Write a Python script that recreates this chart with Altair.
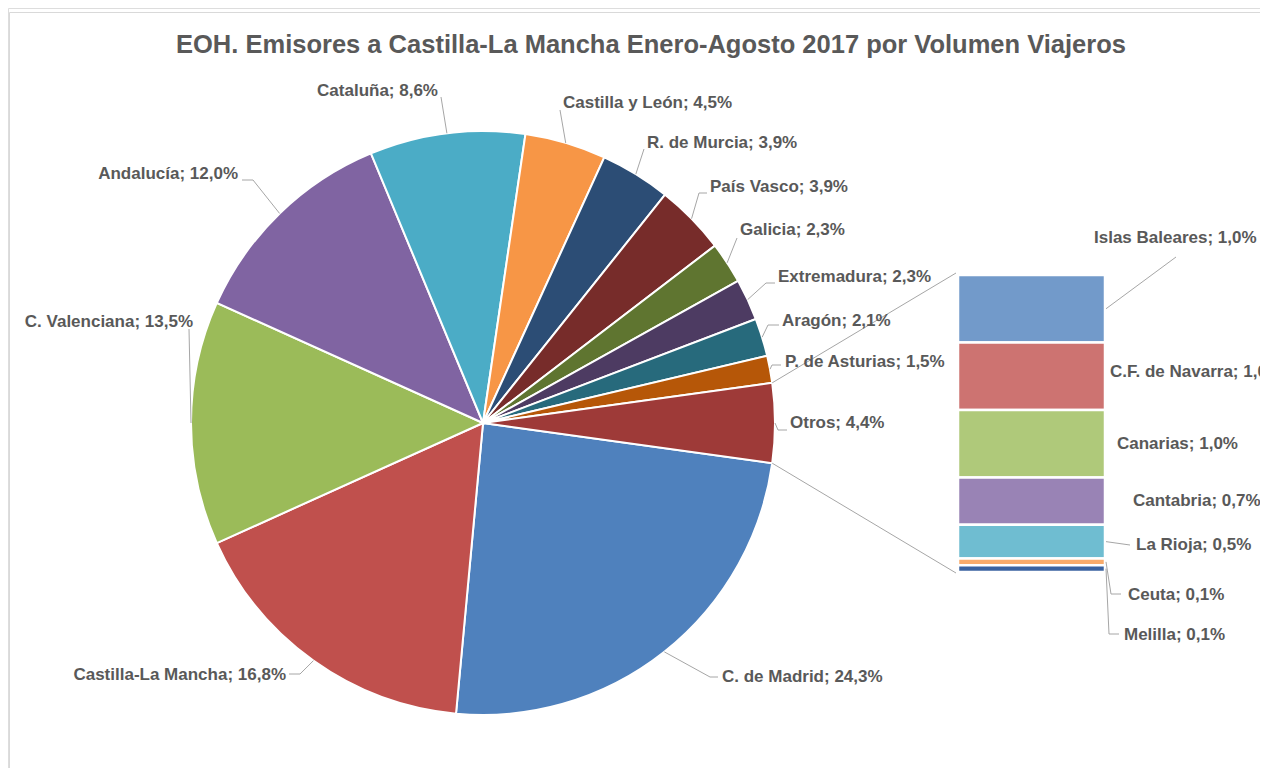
import math
import altair as alt
import pandas as pd

# ---------------- data ----------------
pie_names = ["C. de Madrid", "Castilla-La Mancha", "C. Valenciana", "Andalucía", "Cataluña",
             "Castilla y León", "R. de Murcia", "País Vasco", "Galicia", "Extremadura",
             "Aragón", "P. de Asturias", "Otros"]
pie_values = [24.3, 16.8, 13.5, 12.0, 8.6, 4.5, 3.9, 3.9, 2.3, 2.3, 2.1, 1.5, 4.4]

bar_names = ["Islas Baleares", "C.F. de Navarra", "Canarias", "Cantabria", "La Rioja", "Ceuta", "Melilla"]
bar_values = [1.0, 1.0, 1.0, 0.7, 0.5, 0.1, 0.1]

title_text = "EOH. Emisores a Castilla-La Mancha Enero-Agosto 2017 por Volumen Viajeros"

# ---------------- styles / layout ----------------
pie_colors = ["#4F81BD", "#C0504D", "#9BBB59", "#8064A2", "#4BACC6", "#F79646", "#2C4D75",
              "#772C2A", "#5F7530", "#4D3B62", "#276A7C", "#B65708", "#9E3A38"]
bar_colors = ["#729ACA", "#CD7371", "#AFC97A", "#9983B5", "#6FBDD1", "#F9AB6B", "#3A62A0"]

W, H = 1252, 760
OFF = 8  # page margin
CX, CY, R = 483 - OFF, 423 - OFF, 292
BAR_X0, BAR_X1 = 958 - OFF, 1105 - OFF
BAR_Y0, BAR_Y1 = 275 - OFF, 572 - OFF
TXT = "#595959"
LINE = "#A6A6A6"
FONT = "Liberation Sans"
LABEL_SIZE = 17

# label anchor (page coords), alignment, leader elbow / end points (page coords)
pie_label_pos = [(722, 677, "left"), (286, 675, "right"), (193, 322, "right"), (238, 174, "right"),
                 (438, 91, "right"), (563, 103, "left"), (647, 143, "left"), (710, 187, "left"),
                 (740, 230, "left"), (778, 277, "left"), (782, 321, "left"), (785, 362, "left"),
                 (790, 423, "left")]
pie_leader_pts = [[(710, 677), (718, 677)], [(300, 674), (289, 674)], [(189, 329)], [(253, 180), (242, 180)],
                  [(441, 97)], [(560, 110)], [(644, 149)], [(699, 193), (707, 193)],
                  [(737, 238)], [(766, 283), (775, 283)], [(768, 325), (779, 325)], [(772, 365), (781, 365)],
                  [(778, 430), (787, 430)]]
bar_label_pos = [(1094, 238), (1110, 372), (1117, 444), (1133, 501), (1136, 545), (1128, 595), (1124, 635)]
bar_leader_pts = {0: [(1176, 257)], 4: [(1130, 545)], 5: [(1111, 594), (1121, 594)],
                  6: [(1109, 634), (1119, 634)]}


def fmt(v):
    return f"{v:.1f}".replace(".", ",")


total = sum(pie_values)
n_other = pie_values[-1]
start = math.radians(90 + n_other / total * 360 / 2)

# ---------------- tables ----------------
pie_df = pd.DataFrame({"name": pie_names, "value": pie_values, "idx": range(len(pie_names))})

b0, b1, c = [], [], 0.0
for v in bar_values:
    b0.append(c)
    c += v
    b1.append(c)
bar_df = pd.DataFrame({"name": bar_names, "value": bar_values, "b0": b0, "b1": b1})

labels, lines = [], []
cum = 0.0
lid = 0
for i, (n, v) in enumerate(zip(pie_names, pie_values)):
    a0 = start + cum / total * 2 * math.pi
    cum += v
    am = a0 + v / total * math.pi
    ax, ay = CX + R * math.sin(am), CY - R * math.cos(am)
    lx, ly, al = pie_label_pos[i]
    labels.append({"t": f"{n}; {fmt(v)}%", "x": lx - OFF, "y": ly - OFF, "align": al})
    pts = [(ax, ay)] + [(px - OFF, py - OFF) for px, py in pie_leader_pts[i]]
    for k, (px, py) in enumerate(pts):
        lines.append({"id": lid, "o": k, "x": px, "y": py})
    lid += 1

# connector lines from the "Otros" slice to the bar
a_top = start - n_other / total * 2 * math.pi
a_bot = start
for ang, by in [(a_top, BAR_Y0 - 2), (a_bot, BAR_Y1 + 1)]:
    lines.append({"id": lid, "o": 0, "x": CX + R * math.sin(ang), "y": CY - R * math.cos(ang)})
    lines.append({"id": lid, "o": 1, "x": BAR_X0 - 2, "y": by})
    lid += 1

scale_px = (BAR_Y1 - BAR_Y0) / sum(bar_values)
for i, (n, v) in enumerate(zip(bar_names, bar_values)):
    mid = BAR_Y0 + (b0[i] + v / 2) * scale_px
    bx, byy = bar_label_pos[i]
    labels.append({"t": f"{n}; {fmt(v)}%", "x": bx - OFF, "y": byy - OFF, "align": "left"})
    if i in bar_leader_pts:
        pts = [(BAR_X1 + 1, mid)] + [(px - OFF, py - OFF) for px, py in bar_leader_pts[i]]
        for k, (px, py) in enumerate(pts):
            lines.append({"id": lid, "o": k, "x": px, "y": py})
        lid += 1

labels_df = pd.DataFrame(labels)
lines_df = pd.DataFrame(lines)

# ---------------- marks ----------------
pie = alt.Chart(pie_df).mark_arc(radius=R, stroke="white", strokeWidth=2).encode(
    theta=alt.Theta("value:Q", stack=True, scale=alt.Scale(range=[start, start + 2 * math.pi])),
    order=alt.Order("idx:Q"),
    color=alt.Color("name:N", scale=alt.Scale(domain=pie_names, range=pie_colors), legend=None),
    x=alt.value(CX),
    y=alt.value(CY),
)

bar = alt.Chart(bar_df).mark_rect(stroke="white", strokeWidth=2.5).encode(
    y=alt.Y("b0:Q",
            scale=alt.Scale(domain=[0, sum(bar_values)], range=[BAR_Y0, BAR_Y1], nice=False),
            axis=None),
    y2="b1:Q",
    color=alt.Color("name:N", scale=alt.Scale(domain=bar_names, range=bar_colors), legend=None),
    x=alt.value(BAR_X0),
    x2=alt.value(BAR_X1),
)

leaders = alt.Chart(lines_df).mark_line(color=LINE, strokeWidth=1).encode(
    x=alt.X("x:Q", scale=None, axis=None),
    y=alt.Y("y:Q", scale=None, axis=None),
    detail="id:N",
    order="o:Q",
)


def text_layer(align):
    return alt.Chart(labels_df[labels_df["align"] == align]).mark_text(
        font=FONT, fontSize=LABEL_SIZE, fontWeight="bold", color=TXT, align=align, baseline="middle"
    ).encode(
        x=alt.X("x:Q", scale=None, axis=None),
        y=alt.Y("y:Q", scale=None, axis=None),
        text="t:N",
    )


title = alt.Chart(pd.DataFrame({"t": [title_text]})).mark_text(
    font=FONT, fontSize=25.5, fontWeight="bold", color=TXT, align="center", baseline="middle"
).encode(x=alt.value(651 - OFF), y=alt.value(45 - OFF), text="t:N")

frame_top = alt.Chart(pd.DataFrame({"a": [0]})).mark_rule(color="#D9D9D9", strokeWidth=1).encode(
    x=alt.value(1.5), x2=alt.value(W), y=alt.value(4.5))
frame_left = alt.Chart(pd.DataFrame({"a": [0]})).mark_rule(color="#D9D9D9", strokeWidth=1).encode(
    x=alt.value(1.5), y=alt.value(4.5), y2=alt.value(H))

chart = alt.layer(
    frame_top, frame_left, pie, bar, leaders, text_layer("left"), text_layer("right"), title
).resolve_scale(
    x="independent", y="independent", color="independent"
).properties(
    width=W, height=H, padding=0, autosize=alt.AutoSizeParams(type="none")
).configure_view(stroke=None).configure(background="white")

chart.save("out.html", embed_options={"renderer": "svg", "actions": False})
